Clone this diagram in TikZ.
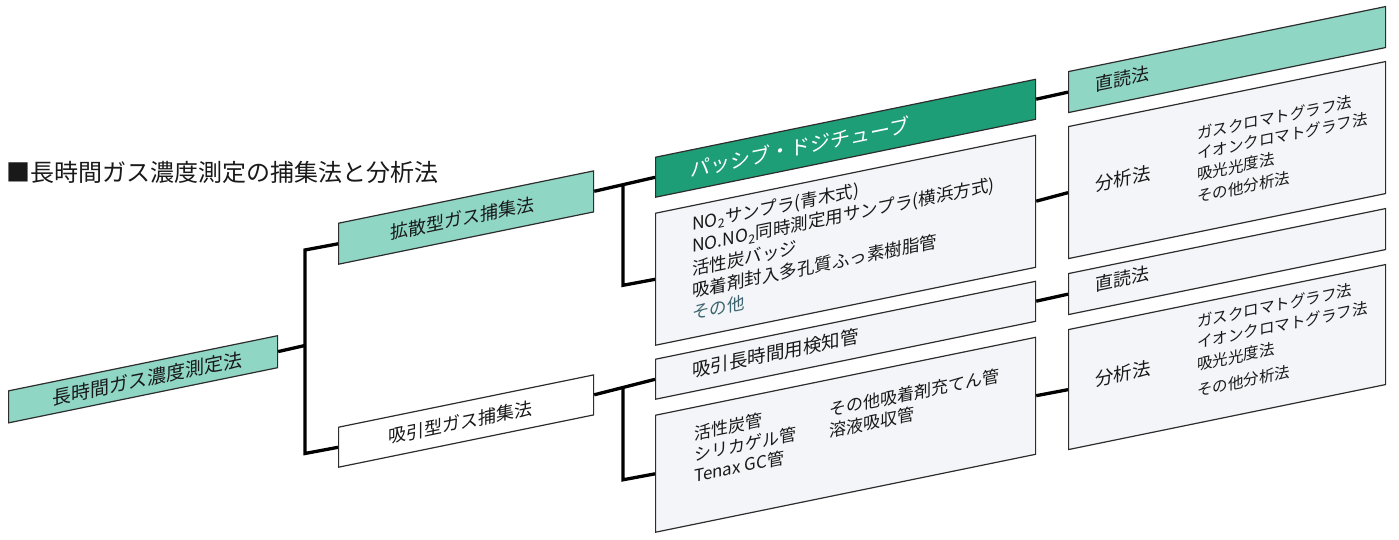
\documentclass[tikz,border=0pt]{standalone}
\usepackage{fontspec}
\setmainfont{Noto Sans CJK JP}
\definecolor{tealL}{RGB}{143,214,196}
\definecolor{greenD}{RGB}{30,158,118}
\definecolor{boxW}{RGB}{243,245,248}
\definecolor{lineC}{RGB}{45,45,45}
\definecolor{txt}{RGB}{25,25,25}
\definecolor{otherC}{RGB}{60,100,110}
\begin{document}
\begin{tikzpicture}[x=1pt,y=1pt,
  box/.style={draw=lineC, line width=1.2pt, inner sep=0pt, anchor=north west},
  conn/.style={line width=3.3pt, draw=black, line join=miter},
  lbl/.style={inner sep=0pt, text=txt},
  fs/.style={font=\fontsize{#1}{#1}\selectfont},
  item/.style={lbl, anchor=west, fs=#1},
]
\useasboundingbox (0,0) rectangle (1399,-539);
\node[lbl, anchor=west, fs=24] (title) at (6,-172) {■長時間ガス濃度測定の捕集法と分析法};
\begin{scope}[yslant=0.205, transform shape]
  % boxes
  \node[box, fill=tealL, minimum width=269pt, minimum height=32pt] (root) at (8,-392) {};
  \node[box, fill=tealL, minimum width=255pt, minimum height=41pt] (diff) at (338,-292) {};
  \node[box, fill=white, minimum width=255pt, minimum height=40pt] (suct) at (338,-496) {};
  \node[box, fill=greenD, minimum width=380pt, minimum height=40pt] (dark) at (655,-291) {};
  \node[box, fill=boxW, minimum width=380pt, minimum height=132pt] (list) at (655,-347) {};
  \node[box, fill=boxW, minimum width=380pt, minimum height=40pt] (tube) at (655,-493) {};
  \node[box, fill=boxW, minimum width=380pt, minimum height=117pt] (pack) at (655,-549) {};
  \node[box, fill=tealL, minimum width=317pt, minimum height=41pt] (r1) at (1068,-290) {};
  \node[box, fill=boxW, minimum width=317pt, minimum height=132pt] (r2) at (1068,-345) {};
  \node[box, fill=boxW, minimum width=317pt, minimum height=41pt] (r3) at (1068,-492) {};
  \node[box, fill=boxW, minimum width=317pt, minimum height=120pt] (r4) at (1068,-548) {};
  % texts
  \node[lbl, fs=19] (troot) at ([xshift=4pt]root.center) {長時間ガス濃度測定法};
  \node[lbl, fs=18] (tdiff) at ([xshift=-4pt]diff.center) {拡散型ガス捕集法};
  \node[lbl, fs=18] (tsuct) at ([xshift=-6pt]suct.center) {吸引型ガス捕集法};
  \node[item=20, text=white] (tdark) at (690,-311) {パッシブ・ドジチューブ};
  \node[item=17.5] (l1) at (692,-367) {NO\textsubscript{2}サンプラ(青木式)};
  \node[item=17.5] (l2) at (692,-389) {NO.NO\textsubscript{2}同時測定用サンプラ(横浜方式)};
  \node[item=17.5] (l3) at (692,-411) {活性炭バッジ};
  \node[item=17.5] (l4) at (692,-433) {吸着剤封入多孔質ふっ素樹脂管};
  \node[item=17.5, text=otherC] (l5) at (692,-455) {その他};
  \node[item=18.5] (ttube) at (692,-512) {吸引長時間用検知管};
  \node[item=17] (p1) at (694,-576) {活性炭管};
  \node[item=17] (p2) at (694,-597) {シリカゲル管};
  \node[item=17] (p3) at (694,-618) {Tenax GC管};
  \node[item=17] (p4) at (829,-580) {その他吸着剤充てん管};
  \node[item=17] (p5) at (829,-601) {溶液吸収管};
  \node[item=18] (tr1) at (1095,-309) {直読法};
  \node[item=18.5] (tr2) at (1095,-409) {分析法};
  \node[item=15.5] (a1) at (1197,-379) {ガスクロマトグラフ法};
  \node[item=15.5] (a2) at (1197,-399) {イオンクロマトグラフ法};
  \node[item=15.5] (a3) at (1197,-420) {吸光光度法};
  \node[item=15.5] (a4) at (1197,-442) {その他分析法};
  \node[item=18] (tr3) at (1095,-509) {直読法};
  \node[item=18.5] (tr4) at (1095,-604) {分析法};
  \node[item=15.5] (b1) at (1197,-567) {ガスクロマトグラフ法};
  \node[item=15.5] (b2) at (1197,-588) {イオンクロマトグラフ法};
  \node[item=15.5] (b3) at (1197,-610) {吸光光度法};
  \node[item=15.5] (b4) at (1197,-636) {その他分析法};
  % connectors
  \coordinate (j1t) at (305,-312.5);
  \coordinate (j1b) at (305,-516);
  \coordinate (j1m) at (305,-408);
  \draw[conn] (root.east) -- (j1m);
  \draw[conn] (diff.west) -- (j1t) -- (j1b) -- (suct.west);
  \coordinate (j2t) at (623,-311.8);
  \coordinate (j2b) at (623,-413);
  \draw[conn] (diff.east) -- (dark.west);
  \draw[conn] (j2t) -- (j2b) -- (list.west);
  \coordinate (j3t) at (623,-514.5);
  \coordinate (j3b) at (623,-607.5);
  \draw[conn] (suct.east) -- (tube.west);
  \draw[conn] (j3t) -- (j3b) -- (pack.west);
  \draw[conn] (dark.east) -- (r1.west);
  \draw[conn] (list.east) -- (r2.west);
  \draw[conn] (tube.east) -- (r3.west);
  \draw[conn] (pack.east) -- (r4.west);
\end{scope}
\end{tikzpicture}
\end{document}
